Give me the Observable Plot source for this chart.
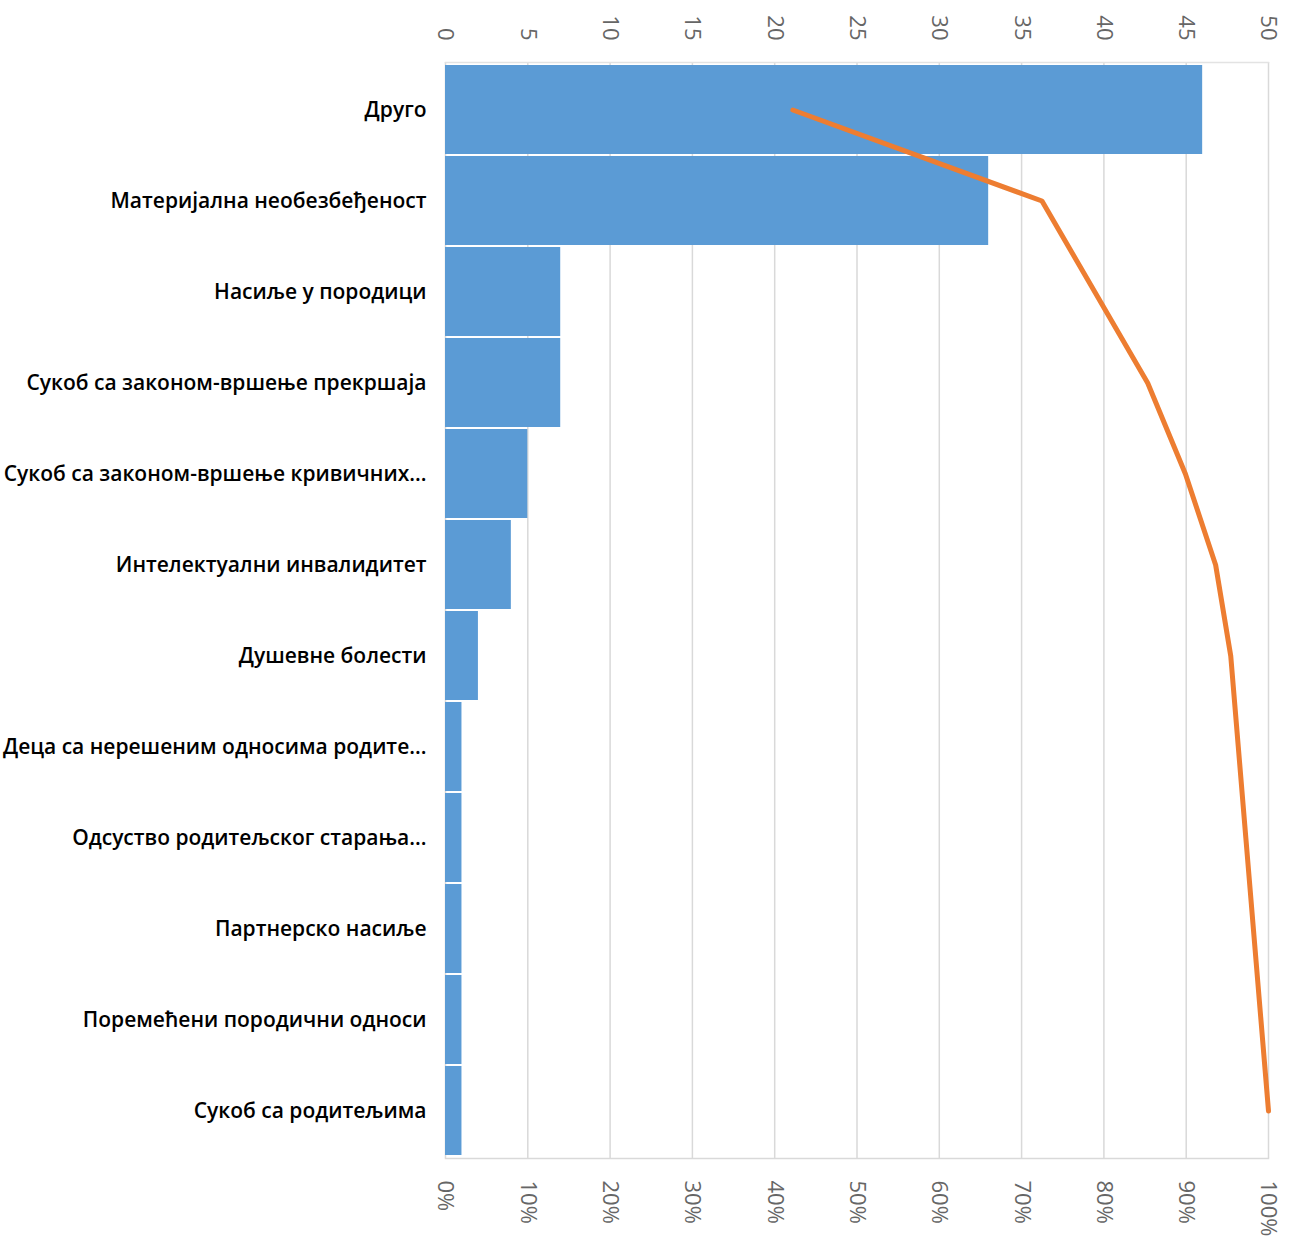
<!DOCTYPE html>
<html>
<head>
<meta charset="utf-8">
<script src="https://cdn.jsdelivr.net/npm/d3@7"></script>
<script src="https://cdn.jsdelivr.net/npm/@observablehq/plot@0.6"></script>
<style>
  html, body { margin: 0; padding: 0; background: #fff; }
  #chart svg { display: block; }
</style>
</head>
<body>
<div id="chart"></div>
<script>
const categories = [
  "Друго",
  "Материјална необезбеђеност",
  "Насиље у породици",
  "Сукоб са законом-вршење прекршаја",
  "Сукоб са законом-вршење кривичних...",
  "Интелектуални инвалидитет",
  "Душевне болести",
  "Деца са нерешеним односима родите...",
  "Одсуство родитељског старања...",
  "Партнерско насиље",
  "Поремећени породични односи",
  "Сукоб са родитељима"
];
const counts = [46, 33, 7, 7, 5, 4, 2, 1, 1, 1, 1, 1];
const countTicks = [0, 5, 10, 15, 20, 25, 30, 35, 40, 45, 50];
const percentTicks = [0, 10, 20, 30, 40, 50, 60, 70, 80, 90, 100];

const total = d3.sum(counts);
let run = 0;
const rows = categories.map((c, i) => {
  run += counts[i];
  return { category: c, count: counts[i], cumPct: run / total * 100 };
});

const chart = Plot.plot({
  width: 1293,
  height: 1250,
  marginTop: 62,
  marginBottom: 92,
  marginLeft: 445,
  marginRight: 25,
  style: { fontFamily: "'Open Sans', sans-serif", background: "#fff" },
  x: { domain: [0, 50] },
  y: { domain: categories, paddingInner: 0.02, paddingOuter: 0 },
  marks: [
    Plot.gridX(countTicks, { stroke: "#d9d9d9", strokeOpacity: 1, strokeWidth: 1.5 }),
    Plot.frame({ anchor: "top", stroke: "#e3e3e3", strokeWidth: 1.5 }),
    Plot.frame({ anchor: "bottom", stroke: "#d9d9d9", strokeWidth: 1.5 }),
    Plot.barX(rows, { x: "count", y: "category", fill: "#5B9BD5" }),
    Plot.line(rows, { x: d => d.cumPct / 2, y: "category", stroke: "#ED7D31", strokeWidth: 5, strokeLinejoin: "round" }),
    Plot.axisX(countTicks, {
      anchor: "top", tickSize: 0, tickRotate: 90, tickPadding: 22,
      fontSize: 22, fill: "#666", label: null
    }),
    Plot.axisX(percentTicks.map(p => p / 2), {
      anchor: "bottom", tickSize: 0, tickRotate: 90, tickPadding: 22,
      tickFormat: d => (d * 2) + "%",
      fontSize: 22, fill: "#666", label: null
    }),
    Plot.axisY({
      tickSize: 0, tickPadding: 19, fontSize: 21, fontWeight: 600, fill: "#000", label: null
    })
  ]
});
document.getElementById("chart").append(chart);
</script>
</body>
</html>
